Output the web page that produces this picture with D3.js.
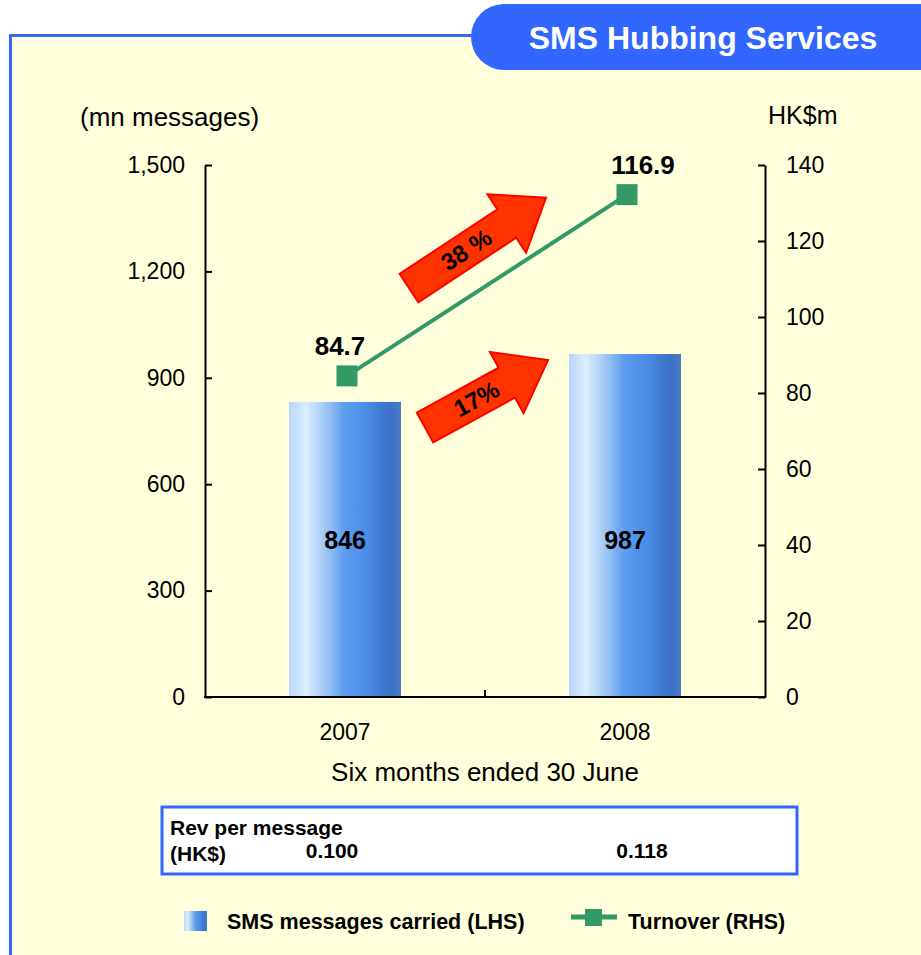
<!DOCTYPE html>
<html>
<head>
<meta charset="utf-8">
<script src="https://cdn.jsdelivr.net/npm/d3@7"></script>
<style>
  body { margin: 0; background: #fff; }
  svg { display: block; font-family: "Liberation Sans", Arial, sans-serif; }
</style>
</head>
<body>
<div id="chart"></div>
<script>
// datos
const years = ["2007", "2008"];
const smsLabels = [846, 987];          // valores impresos en las barras
const smsBars = [832, 967];
const turnoverLabels = ["84.7", "116.9"];
const turnoverLine = [84.5, 132.2];
const revPerMsg = ["0.100", "0.118"];
const leftTicks = [0, 300, 600, 900, 1200, 1500];
const rightTicks = [0, 20, 40, 60, 80, 100, 120, 140];
const growth = ["38 %", "17%"];

const W = 921, H = 955;
const margin = { top: 165, left: 205, right: 156, bottom: 258 };
const width = W - margin.left - margin.right,
      height = H - margin.top - margin.bottom;

const svg = d3.select("#chart").append("svg")
    .attr("width", W).attr("height", H);

const defs = svg.append("defs");
const grad = defs.append("linearGradient").attr("id", "barGrad")
    .attr("x1", "0%").attr("x2", "100%").attr("y1", "0%").attr("y2", "0%");
[["0%", "#b8d6fa"], ["15%", "#dcedff"], ["30%", "#a9cdf6"], ["50%", "#5b9cee"],
 ["70%", "#4a8ce6"], ["90%", "#3a72c6"], ["100%", "#4a7cc8"]]
  .forEach(s => grad.append("stop").attr("offset", s[0]).attr("stop-color", s[1]));

// panel
svg.append("rect").attr("x", 10.5).attr("y", 35.5).attr("width", W).attr("height", H)
    .attr("fill", "#ffffdb").attr("stroke", "#3366ff").attr("stroke-width", 3);

// title pill
svg.append("rect").attr("x", 471).attr("y", 4).attr("width", 520).attr("height", 66)
    .attr("rx", 33).attr("fill", "#3366ff");
svg.append("text").attr("x", 703).attr("y", 49).attr("text-anchor", "middle")
    .attr("fill", "#fff").attr("font-weight", "bold").attr("font-size", 32)
    .text("SMS Hubbing Services");

const g = svg.append("g").attr("transform", `translate(${margin.left},${margin.top})`);

const x = d3.scaleBand().domain(years).range([0, width]).paddingInner(0.6).paddingOuter(0.3);
const yL = d3.scaleLinear().domain([0, 1500]).range([height, 0]);
const yR = d3.scaleLinear().domain([0, 140]).range([height, 0]);
const cx = d => x(d) + x.bandwidth() / 2;

// bars
g.selectAll(".bar").data(years).enter().append("rect")
    .attr("x", d => x(d)).attr("width", x.bandwidth())
    .attr("y", (d, i) => yL(smsBars[i]))
    .attr("height", (d, i) => height - yL(smsBars[i]))
    .attr("fill", "url(#barGrad)");

g.selectAll(".barlab").data(years).enter().append("text")
    .attr("x", cx).attr("y", 384).attr("text-anchor", "middle")
    .attr("font-weight", "bold").attr("font-size", 25)
    .text((d, i) => smsLabels[i]);

// axes
const axL = g.append("g").call(d3.axisLeft(yL).tickValues(leftTicks)
    .tickFormat(d3.format(",")).tickSizeInner(-7).tickSizeOuter(0).tickPadding(20));
const axR = g.append("g").attr("transform", `translate(${width},0)`)
    .call(d3.axisRight(yR).tickValues(rightTicks).tickSizeInner(-7).tickSizeOuter(0).tickPadding(21));
const axB = g.append("g").attr("transform", `translate(0,${height})`)
    .call(d3.axisBottom(x).tickSize(0).tickPadding(27));
[axL, axR, axB].forEach(a => {
  a.selectAll("path, line").attr("stroke", "#000").attr("stroke-width", 2);
  a.selectAll("text").attr("font-size", 23).attr("fill", "#000").attr("font-family", null);
});
axB.select(".domain").attr("d", `M-1,0H${width + 1}`);
g.append("line").attr("x1", width / 2).attr("x2", width / 2)
    .attr("y1", height).attr("y2", height - 7).attr("stroke", "#000").attr("stroke-width", 2);

g.append("text").attr("x", width / 2).attr("y", height + 84).attr("text-anchor", "middle")
    .attr("font-size", 26).text("Six months ended 30 June");
svg.append("text").attr("x", 80).attr("y", 126).attr("font-size", 26).text("(mn messages)");
svg.append("text").attr("x", 768).attr("y", 124).attr("font-size", 25).text("HK$m");

// growth arrows
function arrow(x0, y0, x1, y1, label) {
  const dx = x1 - x0, dy = y1 - y0, L = Math.hypot(dx, dy);
  const ang = Math.atan2(dy, dx) * 180 / Math.PI;
  const hw = 17, hh = 35, hl = 47;
  const a = g.append("g").attr("transform", `translate(${x0},${y0}) rotate(${ang})`);
  a.append("path")
      .attr("d", `M0,${-hw}L${L - hl},${-hw}L${L - hl},${-hh}L${L},0L${L - hl},${hh}L${L - hl},${hw}L0,${hw}Z`)
      .attr("fill", "#ff3300").attr("stroke", "#ff0000").attr("stroke-width", 2)
      .attr("stroke-linejoin", "miter");
  a.append("text").attr("x", L * 0.42).attr("y", 8).attr("text-anchor", "middle")
      .attr("font-weight", "bold").attr("font-size", 24).text(label);
}
arrow(cx("2007") + 64, yL(1153), cx("2008") - 79, yL(1408), growth[0]);
arrow(cx("2007") + 80, yL(760), cx("2008") - 77, yL(950), growth[1]);

// turnover line
const line = d3.line().x((d, i) => cx(years[i]) + 2).y(d => yR(d));
g.append("path").datum(turnoverLine).attr("d", line)
    .attr("fill", "none").attr("stroke", "#339966").attr("stroke-width", 4);
g.selectAll(".pt").data(turnoverLine).enter().append("rect")
    .attr("x", (d, i) => cx(years[i]) + 2 - 10.5).attr("y", d => yR(d) - 10.5)
    .attr("width", 21).attr("height", 21).attr("fill", "#339966");
const labShift = [-5, 18];
g.selectAll(".tlab").data(turnoverLine).enter().append("text")
    .attr("x", (d, i) => cx(years[i]) + labShift[i]).attr("y", d => yR(d) - 21)
    .attr("text-anchor", "middle").attr("font-weight", "bold").attr("font-size", 26)
    .text((d, i) => turnoverLabels[i]);

// revenue per message box
svg.append("rect").attr("x", 162).attr("y", 807).attr("width", 635).attr("height", 67)
    .attr("fill", "#fff").attr("stroke", "#3366ff").attr("stroke-width", 3);
svg.append("text").attr("x", 170).attr("y", 835).attr("font-weight", "bold").attr("font-size", 21)
    .text("Rev per message");
svg.append("text").attr("x", 170).attr("y", 861).attr("font-weight", "bold").attr("font-size", 21)
    .text("(HK$)");
const revShift = [-13, 17];
svg.selectAll(".rev").data(revPerMsg).enter().append("text")
    .attr("x", (d, i) => margin.left + cx(years[i]) + revShift[i]).attr("y", 858)
    .attr("text-anchor", "middle").attr("font-weight", "bold").attr("font-size", 21)
    .text(d => d);

// legend
const lg = svg.append("g").attr("font-weight", "bold").attr("font-size", 21.5);
lg.append("rect").attr("x", 184).attr("y", 911).attr("width", 23).attr("height", 20)
    .attr("fill", "url(#barGrad)");
lg.append("text").attr("x", 227).attr("y", 929).text("SMS messages carried (LHS)");
lg.append("line").attr("x1", 571).attr("x2", 617).attr("y1", 917).attr("y2", 917)
    .attr("stroke", "#339966").attr("stroke-width", 5);
lg.append("rect").attr("x", 585).attr("y", 909).attr("width", 17).attr("height", 17)
    .attr("fill", "#339966");
lg.append("text").attr("x", 628).attr("y", 929).text("Turnover (RHS)");
</script>
</body>
</html>
